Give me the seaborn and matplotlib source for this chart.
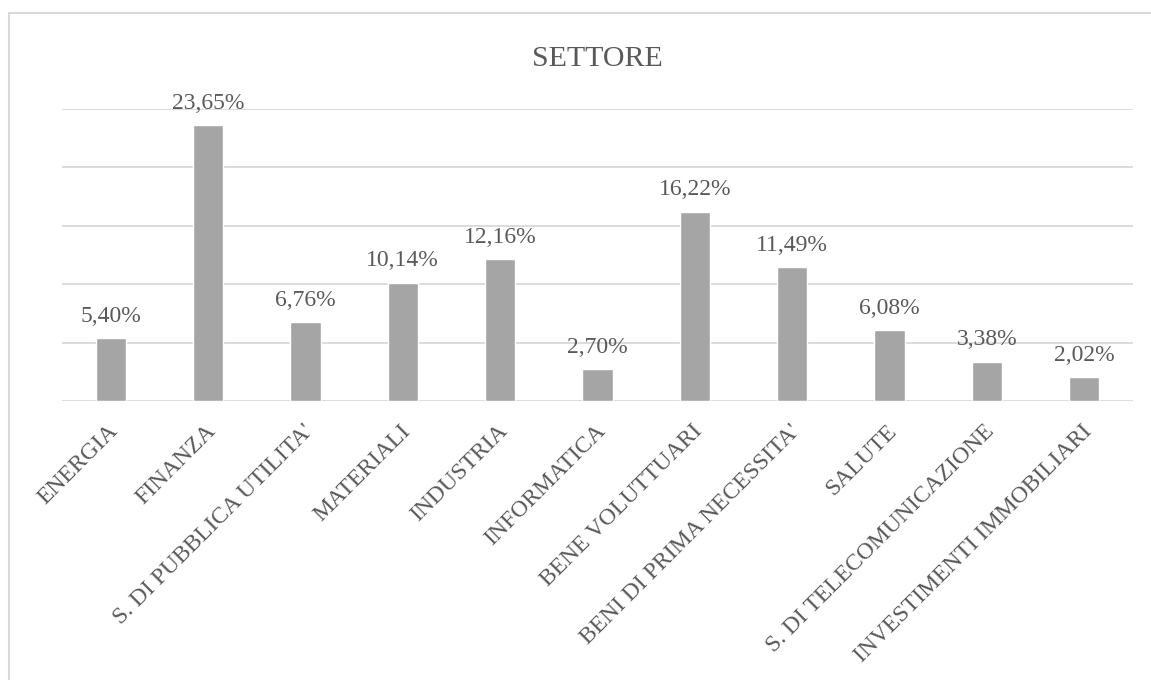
import pandas as pd
import matplotlib.pyplot as plt
import matplotlib.transforms as mtrans
import seaborn as sns
from matplotlib.patches import Rectangle

# data (percent)
categories = ["ENERGIA", "FINANZA", "S. DI PUBBLICA UTILITA'", "MATERIALI",
              "INDUSTRIA", "INFORMATICA", "BENE VOLUTTUARI",
              "BENI DI PRIMA NECESSITA'", "SALUTE", "S. DI TELECOMUNICAZIONE",
              "INVESTIMENTI IMMOBILIARI"]
values = [5.40, 23.65, 6.76, 10.14, 12.16, 2.70, 16.22, 11.49, 6.08, 3.38, 2.02]
y_ticks = [0, 5, 10, 15, 20, 25]

df = pd.DataFrame({"Settore": categories, "Quota": values})

sns.set_theme(style="white")
plt.rcParams['font.family'] = ['Liberation Serif', 'DejaVu Serif']

text_col = '#595959'
grid_col = '#D9D9D9'

fig = plt.figure(figsize=(11.51, 6.80), dpi=100)
ax = fig.add_axes([62/1151, 1 - 401/680, (1133 - 62)/1151, (401 - 109)/680])

sns.barplot(data=df, x="Settore", y="Quota", color='#A5A5A5',
            saturation=1, width=0.31, ax=ax, zorder=3)

ax.set_ylim(0, 25)
ax.set_yticks(y_ticks)
ax.set_yticklabels([])
ax.tick_params(axis='y', length=0)
ax.tick_params(axis='x', length=0, pad=14)
ax.grid(axis='y', color=grid_col, linewidth=1.3, zorder=0)
for s in ['top', 'right', 'left', 'bottom']:
    ax.spines[s].set_visible(False)
ax.set_xlabel('')
ax.set_ylabel('')

ax.set_xticks(range(len(categories)))
ax.set_xticklabels(categories, rotation=45, ha='right', rotation_mode='anchor',
                   fontsize=17, color=text_col)
shift = mtrans.ScaledTranslation(-3/100, 0, fig.dpi_scale_trans)
for lbl in ax.get_xticklabels():
    lbl.set_transform(lbl.get_transform() + shift)

# value labels
for i, v in enumerate(values):
    ax.annotate(f"{v:.2f}%".replace('.', ','), (i, v), xytext=(0, 8),
                textcoords='offset points', ha='center', va='bottom',
                fontsize=17, color=text_col)

fig.text(597/1151, 1 - 59/680, 'SETTORE', ha='center', va='center',
         fontsize=21.5, color=text_col)

# chart frame
fig.patches.append(Rectangle((9/1151, -0.1), 1.2, 1 - 13/680 + 0.1,
                             transform=fig.transFigure, fill=False,
                             edgecolor=grid_col, linewidth=1.5))

plt.savefig('out.png', dpi=100)
